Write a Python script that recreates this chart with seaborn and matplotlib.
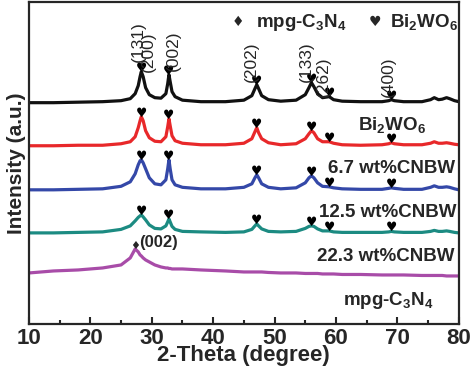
import numpy as np
import pandas as pd
import matplotlib
matplotlib.use("Agg")
import matplotlib.pyplot as plt
import seaborn as sns

# 2-theta sample points (degree)
two_theta = [10, 14, 18, 22, 25,
             26.5, 27.3, 27.8, 28.1, 28.3,
             28.6, 29.0, 29.6, 30.5, 31.5,
             32.3, 32.6, 32.8, 33.0, 33.3,
             33.8, 35, 38, 42, 45,
             46.3, 46.8, 47.1, 47.4, 47.9,
             49, 51, 53.5, 55, 55.6,
             56.0, 56.4, 57, 57.8, 58.9,
             59.6, 61, 64, 67.5, 68.6,
             69.0, 69.5, 71, 74, 75.4,
             76.0, 76.7, 77.3, 78.0, 78.5,
             79.3, 80]

# intensities above each curve's own baseline (a.u.)
black = [0, 0, 0.5, 1, 2,
         4, 9, 17, 26, 31,
         26, 15, 8, 5, 4.5,
         9, 19, 28, 21, 11,
         6, 2.5, 1, 1, 2.5,
         7, 14, 18, 14, 7,
         3, 1.5, 2.5, 8, 15,
         20, 16, 9, 5, 6,
         3, 1.5, 1, 1, 2,
         3, 2, 1, 1, 3,
         5, 3, 3.5, 5, 4,
         2, 1]
bi2wo6 = [0, 0, 0.5, 0.5, 2,
          4, 9, 18, 25, 29,
          25, 15, 8, 4.5, 4,
          9, 19, 27, 20, 10,
          5, 2.5, 1, 1, 2.5,
          7, 14, 18, 13, 7,
          3, 1, 2, 7, 12,
          15, 13, 7, 4, 4,
          2.5, 1, 0.5, 1, 2,
          3, 2, 1, 1, 2.5,
          4, 2.5, 2.5, 3, 2.5,
          1.5, 1]
cnbw_67 = [0, 0, 0.5, 1, 3.5,
           8, 16, 25, 29, 30,
           27, 21, 12, 6, 5,
           10, 21, 30, 21, 10,
           5, 2.5, 1, 1, 2.5,
           6, 12, 15, 12, 6,
           2.5, 1, 2, 7, 12,
           14, 12, 7, 3.5, 3,
           2, 1, 0.5, 0.5, 1.5,
           2, 1.5, 0.5, 0.5, 2.5,
           4, 2.5, 2.5, 3, 2.5,
           1, 0]
cnbw_125 = [0, 0, 0.5, 1, 3.5,
            7, 12, 15.5, 17, 18,
            16, 13, 8, 4.5, 4,
            7, 11, 14, 11, 6.5,
            3.5, 1.5, 1, 0.5, 1,
            3.5, 7, 9, 7, 4,
            1.5, 1, 1.5, 4.5, 6.5,
            7, 6.5, 4, 2, 2,
            1, 0.5, 0.5, 0.5, 1,
            1.5, 1, 0.5, 0.5, 1.5,
            2.5, 1.5, 1.5, 2, 1.5,
            0.5, 0]
mpg_c3n4 = [0, 2, 3, 5, 8,
            15, 24, 21, 18, 17,
            15, 13, 11, 8, 6,
            5, 5, 4.5, 4.5, 4,
            4, 4, 3, 2, 1,
            1, 1, 1, 1, 1,
            0.5, 0, 0, -0.5, -0.5,
            -0.5, -0.5, -0.5, -1, -1,
            -1, -1.5, -1.5, -2, -2,
            -2, -2, -2, -2.5, -2.5,
            -2.5, -2.5, -2.5, -3, -3,
            -3, -3]

series_names = ["top", "Bi2WO6", "6.7", "12.5", "mpg"]
series_values = [black, bi2wo6, cnbw_67, cnbw_125, mpg_c3n4]
offsets = [221, 178, 134, 91, 51]
colors = ["#111111", "#e8282a", "#3448a8", "#1c8b82", "#a84ca8"]

# Bi2WO6 reflections marked with hearts
bw_peaks = [28.3, 32.8, 47.1, 56.0, 58.9, 69.0]
hkl_labels = ["(131)", "(200)", "(002)", "(202)", "(133)", "(262)", "(400)"]
hkl_x = [27.75, 29.4, 33.6, 46.3, 55.2, 58.0, 68.5]
hkl_y = [282, 272, 273, 262, 262, 247, 247]

curve_labels = [r"Bi$_2$WO$_6$", "6.7 wt%CNBW", "12.5 wt%CNBW",
                "22.3 wt%CNBW", r"mpg-C$_3$N$_4$"]
curve_label_x = [74.6, 79.4, 79.6, 79.3, 75.9]
curve_label_y = [194, 151, 107, 63, 19]

sns.set_style("ticks")
plt.rcParams["font.family"] = ["Liberation Sans", "DejaVu Sans"]
plt.rcParams["mathtext.fontset"] = "custom"
plt.rcParams["mathtext.rm"] = "Liberation Sans:bold"
plt.rcParams["mathtext.it"] = "Liberation Sans:bold"
plt.rcParams["mathtext.bf"] = "Liberation Sans:bold"

fig = plt.figure(figsize=(4.74, 3.79), dpi=100)
ax = fig.add_axes([0.061, 0.145, 0.907, 0.851])

frames = []
for name, vals, off in zip(series_names, series_values, offsets):
    frames.append(pd.DataFrame({"theta": two_theta,
                                "intensity": np.array(vals) + off,
                                "sample": name}))
df = pd.concat(frames, ignore_index=True)

sns.lineplot(data=df, x="theta", y="intensity", hue="sample",
             palette=dict(zip(series_names, colors)), linewidth=2.3,
             legend=False, ax=ax, sort=False)

# hearts above the Bi2WO6 reflections
for vals, off in zip(series_values[:4], offsets[:4]):
    for p in bw_peaks:
        yv = np.interp(p, two_theta, vals) + off
        ax.text(p, yv - 3, "\u2665", ha="center", va="bottom",
                fontsize=9, family="DejaVu Sans", color="black")

# diamond on g-C3N4 (002)
c3n4_peak = 27.3
ax.text(c3n4_peak, np.interp(c3n4_peak, two_theta, mpg_c3n4) + offsets[4] - 2,
        "\u2666", ha="center", va="bottom", fontsize=8, family="DejaVu Sans")
ax.text(28.0, 81, "(002)", ha="left", va="center", fontsize=12,
        fontweight="bold")

for lab, hx, hy in zip(hkl_labels, hkl_x, hkl_y):
    ax.text(hx, hy, lab, rotation=90, ha="center", va="center", fontsize=12.5)

for lab, lx, ly in zip(curve_labels, curve_label_x, curve_label_y):
    ax.text(lx, ly, lab, ha="right", va="baseline", fontsize=13.5,
            fontweight="bold")

# legend at the top
ax.text(44.0, 302, "\u2666", ha="center", va="center", fontsize=10,
        family="DejaVu Sans")
ax.text(47.0, 297, r"mpg-C$_3$N$_4$", ha="left", va="baseline",
        fontsize=13.5, fontweight="bold")
ax.text(66.3, 302, "\u2665", ha="center", va="center", fontsize=10,
        family="DejaVu Sans")
ax.text(68.8, 297, r"Bi$_2$WO$_6$", ha="left", va="baseline",
        fontsize=13.5, fontweight="bold")

ax.set_xlim(10, 80)
ax.set_ylim(0, 322)
ax.set_xticks(range(10, 81, 10))
ax.set_xticks(range(15, 80, 10), minor=True)
ax.set_yticks([])
ax.tick_params(axis="x", which="major", direction="in", length=5, width=1.5,
               labelsize=16, pad=3)
ax.tick_params(axis="x", which="minor", direction="in", length=3, width=1.5)
for lbl in ax.get_xticklabels():
    lbl.set_fontweight("bold")
for sp in ax.spines.values():
    sp.set_visible(True)
    sp.set_linewidth(1.6)

ax.set_xlabel("2-Theta (degree)", fontsize=16, fontweight="bold", labelpad=-3)
ax.set_ylabel("Intensity (a.u.)", fontsize=15, fontweight="bold", labelpad=2)

fig.savefig("out.png", dpi=100)
